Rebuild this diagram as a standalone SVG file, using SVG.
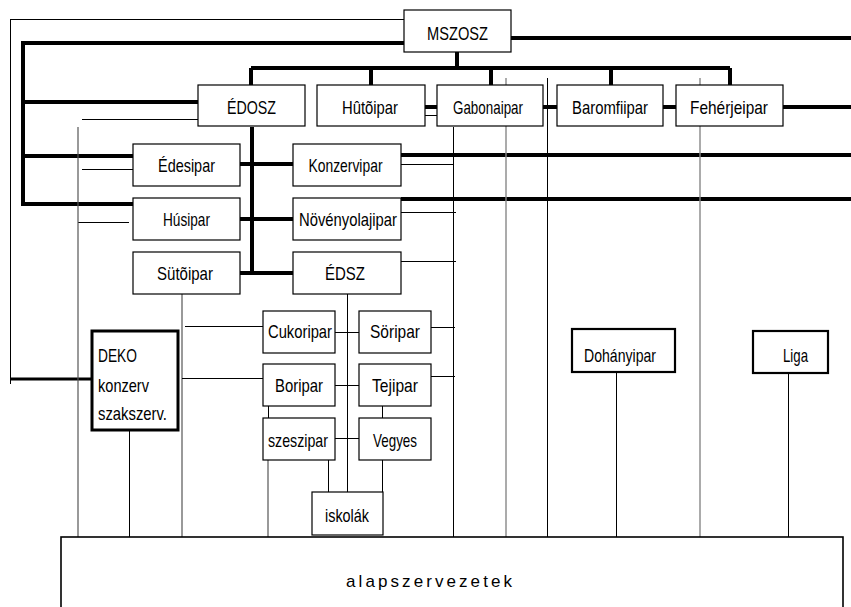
<svg xmlns="http://www.w3.org/2000/svg" width="851" height="607" viewBox="0 0 851 607">
<style>
  .box{fill:#fff;stroke:#000;stroke-width:1.2}
  .b2{fill:#fff;stroke:#000;stroke-width:2.2}
  .b3{fill:#fff;stroke:#000;stroke-width:3}
  .t{font-family:"Liberation Sans Narrow","Liberation Sans",Arial,sans-serif;font-size:19px;fill:#000;text-anchor:middle}
  .ts{font-family:"Liberation Sans Narrow","Liberation Sans",Arial,sans-serif;font-size:19px;fill:#000}
  .al{font-family:"Liberation Sans Narrow","Liberation Sans",Arial,sans-serif;font-size:17px;fill:#000}
  .thick{stroke:#000;stroke-width:4;fill:none}
  .med{stroke:#000;stroke-width:3;fill:none}
  .thin{stroke:#000;stroke-width:1;fill:none}
  .gray{stroke:#555;stroke-width:1.2;fill:none}
  .lgray{stroke:#888;stroke-width:1.4;fill:none}
</style>
<rect width="851" height="607" fill="#fff"/>
<g id="connectors">
  <path class="thick" d="M404,43 H23 V206"/>
  <path class="thick" d="M511,38 H851"/>
  <path class="thick" d="M457,52 V68 M251,68 H730 M251,68 V85 M371,68 V85 M491,68 V85 M611,68 V85 M730,68 V85"/>
  <path class="thick" d="M23,102 H198 M23,156 H133 M23,204 H133"/>
  <path class="thick" d="M252,127 V273 M240,164 H293 M240,219 H293 M240,273 H293"/>
  <path class="thick" d="M401,155 H851 M401,199 H851"/>
  <path class="thick" d="M425,107 H437 M543,107 H557 M663,107 H676 M783,107 H851"/>
  <path class="med" d="M10,379 H92"/>
  <path class="thin" d="M10.5,19 V384 M10,19.5 H404"/>
  <path class="thin" d="M82,119.5 H198 M82,169.5 H133 M78,222.5 H129"/>
  <path class="gray" d="M78,127 V537"/>
  <path class="thin" d="M425,115.5 H437"/>
  <path class="thin" d="M401,164.5 H454 M401,212.5 H456 M401,261.5 H456"/>
  <path class="thin" d="M453.5,127 V537 M547.5,78 V541"/>
  <path class="lgray" d="M506,78 V537 M700,78 V537"/>
  <path class="gray" d="M182,294 V537"/>
  <path class="thin" d="M185,326.5 H263 M182,378.5 H263"/>
  <path class="thin" d="M347.5,294 V492"/>
  <path class="thin" d="M335,332.5 H359 M335,385.5 H359 M335,438.5 H359"/>
  <path class="thin" d="M431,327.5 H455 M431,376.5 H455"/>
  <path class="thin" d="M268.5,406 V418 M382.5,406 V418"/>
  <path class="gray" d="M268,460 V537"/>
  <path class="thin" d="M328.5,460 V492 M382.5,460 V492"/>
  <path class="thin" d="M129.5,430 V541"/>
  <path class="thin" d="M616.5,372 V537 M788.5,373 V541"/>
</g>
<g id="n-mszosz"><rect class="box" x="404" y="10" width="107" height="42"/><text class="t" x="457.5" y="40" textLength="61" lengthAdjust="spacingAndGlyphs">MSZOSZ</text></g>
<g id="n-edosz"><rect class="box" x="198" y="85" width="107" height="41"/><text class="t" x="251.5" y="114" textLength="49" lengthAdjust="spacingAndGlyphs">ÉDOSZ</text></g>
<g id="n-hutoipar"><rect class="box" x="317" y="85" width="108" height="41"/><text class="t" x="370" y="114" textLength="56" lengthAdjust="spacingAndGlyphs">Hûtõipar</text></g>
<g id="n-gabonaipar"><rect class="box" x="437" y="85" width="106" height="41"/><text class="t" x="488" y="114" textLength="70" lengthAdjust="spacingAndGlyphs">Gabonaipar</text></g>
<g id="n-baromfiipar"><rect class="box" x="557" y="85" width="106" height="41"/><text class="t" x="610" y="114" textLength="76" lengthAdjust="spacingAndGlyphs">Baromfiipar</text></g>
<g id="n-feherjeipar"><rect class="box" x="676" y="85" width="107" height="41"/><text class="t" x="729" y="114" textLength="78" lengthAdjust="spacingAndGlyphs">Fehérjeipar</text></g>
<g id="n-edesipar"><rect class="box" x="133" y="144" width="107" height="42"/><text class="t" x="186.5" y="172" textLength="57" lengthAdjust="spacingAndGlyphs">Édesipar</text></g>
<g id="n-konzervipar"><rect class="box" x="293" y="144" width="108" height="42"/><text class="t" x="345.5" y="172" textLength="74" lengthAdjust="spacingAndGlyphs">Konzervipar</text></g>
<g id="n-husipar"><rect class="box" x="133" y="198" width="107" height="42"/><text class="t" x="186.5" y="226" textLength="47" lengthAdjust="spacingAndGlyphs">Húsipar</text></g>
<g id="n-novenyolajipar"><rect class="box" x="293" y="198" width="108" height="42"/><text class="t" x="348" y="226" textLength="98" lengthAdjust="spacingAndGlyphs">Növényolajipar</text></g>
<g id="n-sutoipar"><rect class="box" x="133" y="252" width="107" height="42"/><text class="t" x="185" y="280" textLength="56" lengthAdjust="spacingAndGlyphs">Sütõipar</text></g>
<g id="n-edsz"><rect class="box" x="293" y="252" width="108" height="42"/><text class="t" x="345" y="280" textLength="40" lengthAdjust="spacingAndGlyphs">ÉDSZ</text></g>
<g id="n-cukoripar"><rect class="box" x="263" y="311" width="72" height="42"/><text class="t" x="300" y="338" textLength="64" lengthAdjust="spacingAndGlyphs">Cukoripar</text></g>
<g id="n-soripar"><rect class="box" x="359" y="311" width="72" height="42"/><text class="t" x="395" y="338" textLength="50" lengthAdjust="spacingAndGlyphs">Söripar</text></g>
<g id="n-boripar"><rect class="box" x="263" y="364" width="72" height="42"/><text class="t" x="299" y="392" textLength="48" lengthAdjust="spacingAndGlyphs">Boripar</text></g>
<g id="n-tejipar"><rect class="box" x="359" y="364" width="72" height="42"/><text class="t" x="395" y="392" textLength="46" lengthAdjust="spacingAndGlyphs">Tejipar</text></g>
<g id="n-szeszipar"><rect class="box" x="263" y="418" width="72" height="42"/><text class="t" x="298" y="447" textLength="60" lengthAdjust="spacingAndGlyphs">szeszipar</text></g>
<g id="n-vegyes"><rect class="box" x="359" y="418" width="72" height="42"/><text class="t" x="395" y="447" textLength="44" lengthAdjust="spacingAndGlyphs">Vegyes</text></g>
<g id="n-deko"><rect class="b3" x="92" y="331" width="86" height="99"/>
  <text class="ts" x="98" y="362" textLength="39" lengthAdjust="spacingAndGlyphs">DEKO</text>
  <text class="ts" x="98" y="392" textLength="51" lengthAdjust="spacingAndGlyphs">konzerv</text>
  <text class="ts" x="98" y="420" textLength="69" lengthAdjust="spacingAndGlyphs">szakszerv.</text></g>
<g id="n-dohanyipar"><rect class="b2" x="572" y="329" width="103" height="43"/><text class="t" x="620" y="362" textLength="72" lengthAdjust="spacingAndGlyphs">Dohányipar</text></g>
<g id="n-liga"><rect class="b2" x="753" y="331" width="75" height="42"/><text class="t" x="795.5" y="362" textLength="25" lengthAdjust="spacingAndGlyphs">Liga</text></g>
<g id="n-iskolak"><rect class="box" x="312" y="492" width="71" height="43"/><text class="t" x="347" y="522" textLength="44" lengthAdjust="spacingAndGlyphs">iskolák</text></g>
<g id="n-alapszervezetek"><rect fill="#fff" stroke="#000" stroke-width="1.6" x="61" y="537" width="782" height="90"/><text class="al" x="346" y="587" textLength="166" lengthAdjust="spacing">alapszervezetek</text></g>
</svg>
